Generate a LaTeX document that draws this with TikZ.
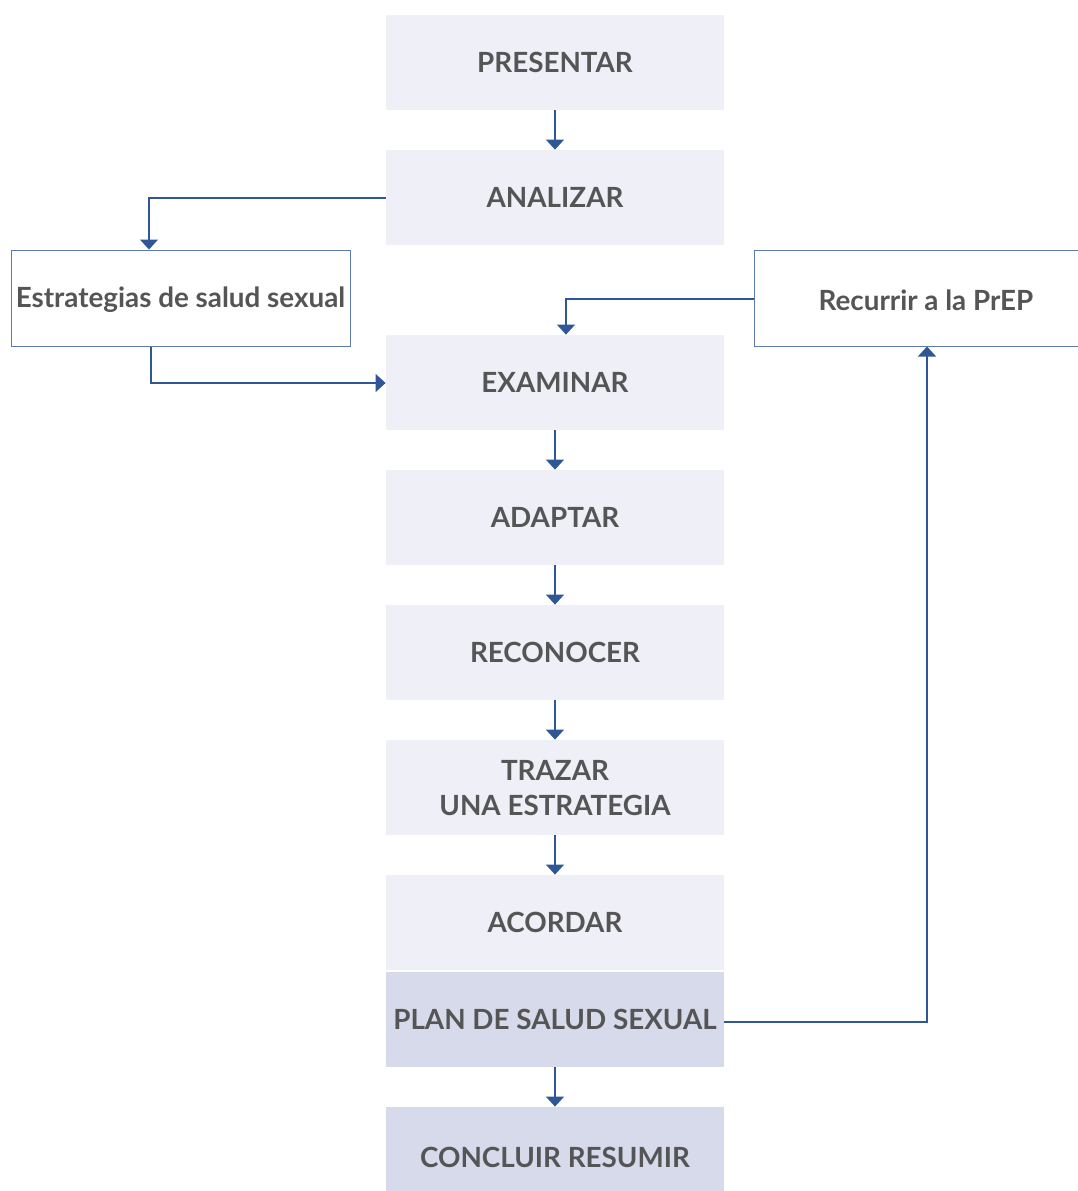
\documentclass[tikz,border=0pt]{standalone}
\usepackage{fontspec}
\setmainfont{Lato}
\usetikzlibrary{arrows.meta,calc,positioning}

\definecolor{stepfill}{HTML}{EEEFF7}
\definecolor{planfill}{HTML}{D7DAEA}
\definecolor{flowline}{HTML}{2F5797}
\definecolor{sidebox}{HTML}{5A7AB0}
\definecolor{steptext}{HTML}{555555}

\tikzset{
  stagefont/.style={font=\fontsize{13.9}{17.5}\selectfont\bfseries, text=steptext},
  stage/.style={fill=stepfill, minimum width=169pt, minimum height=47.5pt,
    inner sep=0pt, align=center, stagefont, text depth=0pt},
  planstage/.style={stage, fill=planfill},
  sidenote/.style={stage, fill=white, draw=sidebox, line width=0.5pt},
  flow/.style={draw=flowline, line width=0.7pt,
    -{Triangle[width=9pt,length=5pt]}},
}

\begin{document}
\begin{tikzpicture}[x=0.5pt,y=-0.5pt]
	\useasboundingbox (0,0) rectangle (1078,1191);

	%main column
	\node[stage] (present) at (555,62.5) {PRESENTAR};
	\node[stage] (analyse) at (555,197.5) {ANALIZAR};
	\node[stage] (examine) at (555,382.5) {EXAMINAR};
	\node[stage] (adapt) at (555,517.5) {ADAPTAR};
	\node[stage] (recognise) at (555,652.5) {RECONOCER};
	\node[stage] (trace) at (555,787.5) {TRAZAR\\UNA ESTRATEGIA};
	\node[stage] (agree) at (555,922.5) {ACORDAR};
	\node[planstage] (plan) at (555,1019.5) {PLAN DE SALUD SEXUAL};
	\node[planstage, minimum height=42pt] (conclude) at (555,1149) {};
	\node[stagefont] (concludetext) at (555,1157) {CONCLUIR RESUMIR};

	%side boxes
	\node[sidenote, minimum width=169.5pt, minimum height=48pt] (strategies) at (180.5,298) {};
	\node[stagefont] (strategiestext) at (180.5,300) {Estrategias de salud sexual};
	\node[sidenote, minimum width=170pt, minimum height=48pt] (prep) at (924,298) {};
	\node[stagefont] (preptext) at (926,300) {Recurrir a la PrEP};

	%straight arrows
	\draw[flow] (present) -- (analyse);
	\draw[flow] (examine) -- (adapt);
	\draw[flow] (adapt) -- (recognise);
	\draw[flow] (recognise) -- (trace);
	\draw[flow] (trace) -- (agree);
	\draw[flow] (plan) -- (conclude);

	%side loops
	\coordinate (leftturn) at (149,198);
	\draw[flow] (analyse.west |- leftturn) -- (leftturn) -- (leftturn |- strategies.north);
	\coordinate (leftdown) at (151,383);
	\draw[flow] (strategies.south -| leftdown) -- (leftdown) -- (examine.west |- leftdown);
	\coordinate (rightturn) at (566,299);
	\draw[flow] (prep.west |- rightturn) -- (rightturn) -- (rightturn |- examine.north);
	\coordinate (rightup) at (927,1022);
	\draw[flow] (plan.east |- rightup) -- (rightup) -- (rightup |- prep.south);

\end{tikzpicture}
\end{document}
